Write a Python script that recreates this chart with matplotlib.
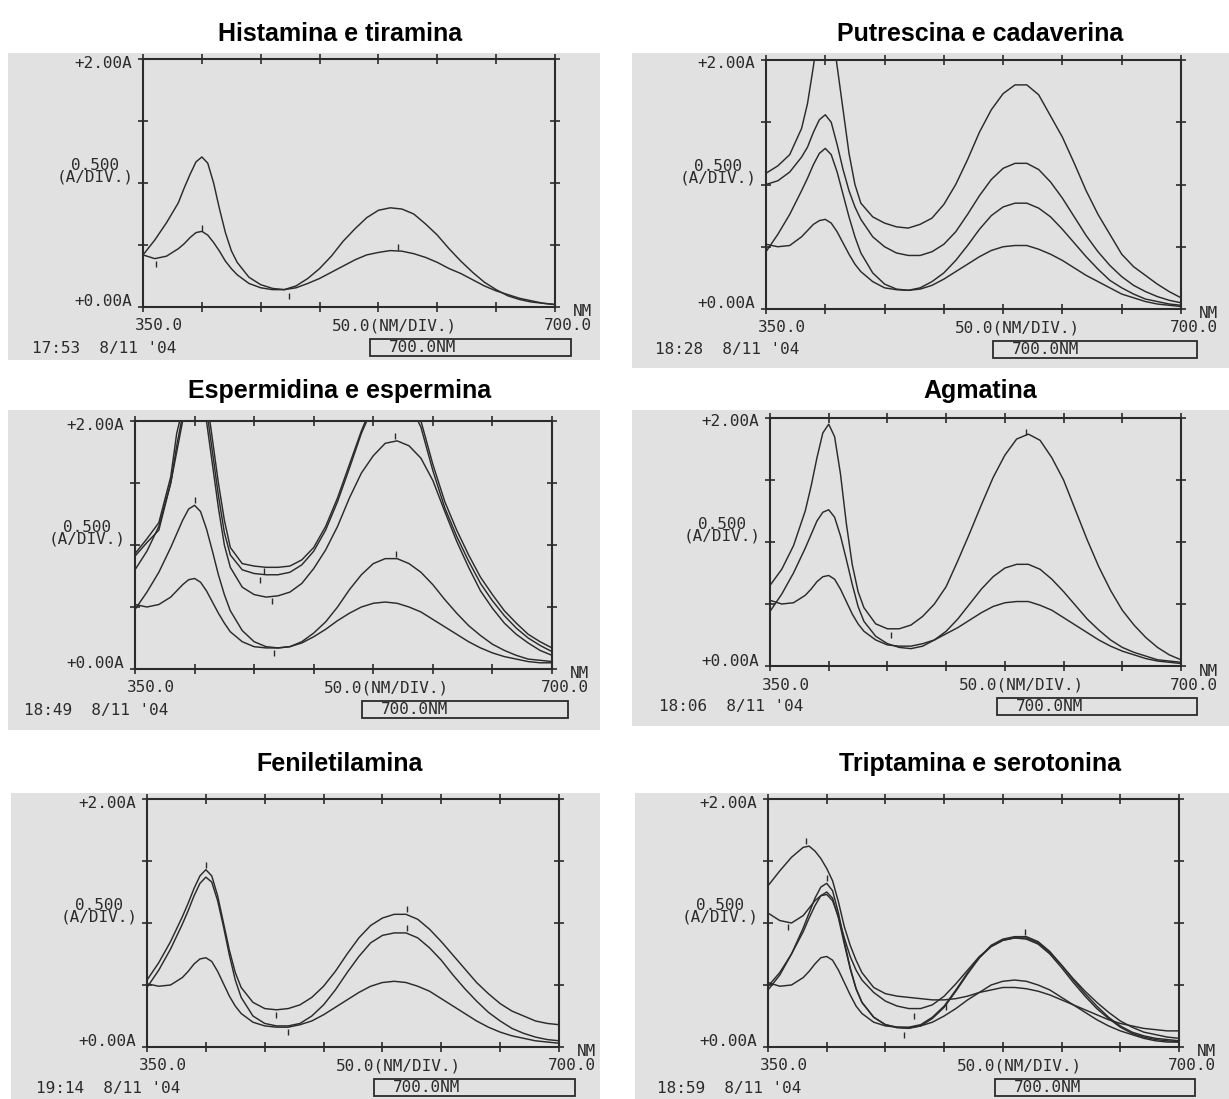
import matplotlib
matplotlib.use('Agg')
import matplotlib.pyplot as plt
from matplotlib.patches import Rectangle

# ---------------- data ----------------
wavelength = [350, 360, 370, 380, 385, 390, 395, 400, 405, 410, 415, 420, 425, 430,
              440, 450, 460, 470, 480, 490, 500, 510, 520, 530, 540, 550, 560, 570,
              580, 590, 600, 610, 620, 630, 640, 650, 660, 670, 680, 690, 700]

titles = ["Histamina e tiramina", "Putrescina e cadaverina",
          "Espermidina e espermina", "Agmatina",
          "Feniletilamina", "Triptamina e serotonina"]
timestamps = ["17:53  8/11 '04", "18:28  8/11 '04", "18:49  8/11 '04",
              "18:06  8/11 '04", "19:14  8/11 '04", "18:59  8/11 '04"]
y_top_label = "+2.00A"
y_bottom_label = "+0.00A"
y_scale_label = "0.500\n(A/DIV.)"
x_start_label = "350.0"
x_scale_label = "50.0(NM/DIV.)"
x_end_label = "700.0"
x_unit_label = "NM"
box_label = "700.0NM"

hist_1 = [0.42, 0.54, 0.68, 0.84, 0.96, 1.07, 1.17, 1.21, 1.16, 1.00, 0.79, 0.60, 0.455, 0.36,
          0.24, 0.18, 0.15, 0.14, 0.17, 0.23, 0.31, 0.41, 0.53, 0.63, 0.72, 0.78, 0.80, 0.79,
          0.75, 0.67, 0.58, 0.47, 0.37, 0.28, 0.20, 0.14, 0.09, 0.06, 0.04, 0.03, 0.02]
hist_2 = [0.42, 0.39, 0.41, 0.47, 0.51, 0.56, 0.60, 0.61, 0.58, 0.52, 0.45, 0.37, 0.31, 0.26,
          0.19, 0.155, 0.14, 0.14, 0.155, 0.19, 0.23, 0.28, 0.33, 0.38, 0.42, 0.44, 0.455, 0.45,
          0.43, 0.40, 0.36, 0.31, 0.27, 0.22, 0.17, 0.13, 0.10, 0.07, 0.05, 0.03, 0.02]
hist_mark_nm = [361, 400, 474, 567]
hist_mark_a = [0.35, 0.64, 0.09, 0.48]

putr_1 = [1.09, 1.15, 1.24, 1.45, 1.65, 1.95, 2.30, 2.50, 2.30, 1.95, 1.60, 1.25, 1.00, 0.85,
          0.74, 0.69, 0.66, 0.65, 0.68, 0.73, 0.84, 1.00, 1.20, 1.42, 1.60, 1.73, 1.80, 1.80,
          1.72, 1.55, 1.38, 1.17, 0.95, 0.76, 0.60, 0.44, 0.34, 0.27, 0.20, 0.14, 0.09]
putr_2 = [1.00, 1.03, 1.10, 1.22, 1.30, 1.42, 1.52, 1.56, 1.50, 1.32, 1.12, 0.95, 0.82, 0.72,
          0.58, 0.50, 0.45, 0.43, 0.43, 0.46, 0.52, 0.62, 0.76, 0.91, 1.04, 1.13, 1.17, 1.17,
          1.12, 1.02, 0.89, 0.74, 0.59, 0.46, 0.35, 0.26, 0.19, 0.14, 0.10, 0.07, 0.05]
putr_3 = [0.46, 0.60, 0.76, 0.95, 1.05, 1.16, 1.25, 1.29, 1.24, 1.10, 0.92, 0.74, 0.58, 0.45,
          0.29, 0.20, 0.16, 0.15, 0.17, 0.22, 0.29, 0.39, 0.51, 0.64, 0.75, 0.82, 0.85, 0.85,
          0.81, 0.74, 0.64, 0.53, 0.42, 0.32, 0.23, 0.17, 0.12, 0.08, 0.06, 0.04, 0.03]
putr_4 = [0.52, 0.50, 0.51, 0.58, 0.63, 0.68, 0.71, 0.72, 0.69, 0.62, 0.53, 0.44, 0.36, 0.30,
          0.22, 0.17, 0.155, 0.15, 0.16, 0.19, 0.24, 0.30, 0.36, 0.42, 0.47, 0.50, 0.51, 0.51,
          0.48, 0.44, 0.39, 0.33, 0.27, 0.22, 0.17, 0.12, 0.09, 0.06, 0.04, 0.03, 0.02]
putr_mark_nm = []
putr_mark_a = []

esp_1 = [0.93, 1.05, 1.18, 1.55, 1.90, 2.10, 2.40, 2.60, 2.50, 2.20, 1.85, 1.50, 1.20, 0.98,
         0.85, 0.83, 0.82, 0.82, 0.83, 0.88, 0.98, 1.15, 1.38, 1.65, 1.92, 2.15, 2.30, 2.30,
         2.20, 2.00, 1.65, 1.35, 1.12, 0.92, 0.74, 0.60, 0.47, 0.37, 0.28, 0.22, 0.17]
esp_2 = [0.91, 1.02, 1.12, 1.50, 1.80, 2.05, 2.30, 2.50, 2.40, 2.10, 1.75, 1.40, 1.10, 0.92,
         0.80, 0.77, 0.76, 0.76, 0.78, 0.84, 0.95, 1.12, 1.35, 1.62, 1.90, 2.12, 2.25, 2.25,
         2.15, 1.95, 1.60, 1.30, 1.07, 0.87, 0.69, 0.55, 0.43, 0.33, 0.25, 0.19, 0.14]
esp_3 = [0.80, 0.95, 1.15, 1.50, 1.75, 2.00, 2.30, 2.40, 2.30, 2.00, 1.65, 1.30, 1.00, 0.82,
         0.66, 0.60, 0.58, 0.59, 0.62, 0.69, 0.81, 0.96, 1.15, 1.38, 1.58, 1.72, 1.82, 1.84,
         1.80, 1.70, 1.52, 1.27, 1.03, 0.82, 0.63, 0.49, 0.37, 0.28, 0.21, 0.15, 0.11]
esp_4 = [0.48, 0.62, 0.78, 0.98, 1.09, 1.20, 1.29, 1.32, 1.27, 1.13, 0.95, 0.76, 0.60, 0.47,
         0.31, 0.22, 0.18, 0.17, 0.18, 0.22, 0.29, 0.38, 0.50, 0.64, 0.76, 0.85, 0.89, 0.89,
         0.85, 0.78, 0.68, 0.56, 0.45, 0.35, 0.27, 0.20, 0.15, 0.11, 0.08, 0.07, 0.06]
esp_5 = [0.52, 0.50, 0.52, 0.58, 0.63, 0.68, 0.72, 0.73, 0.70, 0.63, 0.54, 0.45, 0.37, 0.30,
         0.22, 0.18, 0.17, 0.17, 0.18, 0.21, 0.26, 0.32, 0.39, 0.45, 0.50, 0.53, 0.54, 0.53,
         0.50, 0.46, 0.40, 0.34, 0.28, 0.22, 0.17, 0.13, 0.10, 0.08, 0.06, 0.05, 0.05]
esp_mark_nm = [400, 455, 458, 465, 568, 569, 467]
esp_mark_a = [1.36, 0.72, 0.79, 0.55, 1.88, 0.93, 0.13]

agm_1 = [0.65, 0.78, 0.97, 1.25, 1.45, 1.68, 1.88, 1.95, 1.85, 1.55, 1.15, 0.82, 0.60, 0.47,
         0.34, 0.30, 0.30, 0.33, 0.40, 0.50, 0.64, 0.85, 1.07, 1.30, 1.52, 1.70, 1.83, 1.87,
         1.82, 1.68, 1.50, 1.26, 1.02, 0.80, 0.61, 0.45, 0.33, 0.23, 0.15, 0.09, 0.05]
agm_2 = [0.44, 0.58, 0.75, 0.95, 1.06, 1.17, 1.24, 1.26, 1.20, 1.05, 0.86, 0.66, 0.48, 0.36,
         0.24, 0.18, 0.15, 0.14, 0.16, 0.21, 0.28, 0.38, 0.50, 0.62, 0.72, 0.79, 0.82, 0.82,
         0.78, 0.70, 0.60, 0.49, 0.38, 0.29, 0.21, 0.15, 0.11, 0.08, 0.05, 0.04, 0.03]
agm_3 = [0.53, 0.50, 0.51, 0.57, 0.62, 0.68, 0.72, 0.73, 0.70, 0.62, 0.52, 0.42, 0.34, 0.28,
         0.21, 0.17, 0.16, 0.16, 0.18, 0.21, 0.26, 0.31, 0.37, 0.43, 0.48, 0.51, 0.52, 0.52,
         0.49, 0.45, 0.39, 0.33, 0.27, 0.21, 0.16, 0.12, 0.09, 0.06, 0.04, 0.03, 0.02]
agm_mark_nm = [568, 453]
agm_mark_a = [1.89, 0.25]

fen_1 = [0.54, 0.68, 0.85, 1.05, 1.16, 1.28, 1.38, 1.43, 1.38, 1.22, 1.00, 0.78, 0.60, 0.48,
         0.36, 0.31, 0.30, 0.31, 0.34, 0.40, 0.49, 0.61, 0.75, 0.88, 0.98, 1.04, 1.07, 1.07,
         1.03, 0.95, 0.85, 0.74, 0.63, 0.52, 0.43, 0.35, 0.29, 0.25, 0.21, 0.19, 0.18]
fen_2 = [0.48, 0.62, 0.79, 0.99, 1.10, 1.22, 1.32, 1.37, 1.33, 1.18, 0.97, 0.74, 0.54, 0.40,
         0.25, 0.19, 0.17, 0.17, 0.19, 0.25, 0.34, 0.46, 0.60, 0.73, 0.84, 0.90, 0.92, 0.92,
         0.88, 0.80, 0.70, 0.58, 0.47, 0.37, 0.28, 0.21, 0.15, 0.11, 0.08, 0.06, 0.05]
fen_3 = [0.51, 0.49, 0.50, 0.56, 0.61, 0.67, 0.71, 0.72, 0.69, 0.61, 0.51, 0.41, 0.33, 0.27,
         0.20, 0.17, 0.16, 0.16, 0.18, 0.21, 0.26, 0.32, 0.38, 0.44, 0.49, 0.52, 0.53, 0.52,
         0.49, 0.45, 0.39, 0.33, 0.27, 0.21, 0.16, 0.12, 0.09, 0.07, 0.05, 0.04, 0.03]
fen_mark_nm = [400, 571, 571, 460, 470]
fen_mark_a = [1.47, 1.11, 0.96, 0.26, 0.12]

trip_1 = [1.30, 1.42, 1.53, 1.61, 1.62, 1.58, 1.52, 1.44, 1.34, 1.17, 0.97, 0.82, 0.70, 0.60,
          0.48, 0.43, 0.41, 0.40, 0.39, 0.38, 0.38, 0.39, 0.41, 0.44, 0.46, 0.48, 0.48, 0.47,
          0.45, 0.42, 0.38, 0.34, 0.30, 0.26, 0.22, 0.19, 0.17, 0.15, 0.14, 0.13, 0.13]
trip_2 = [1.08, 1.02, 1.00, 1.06, 1.12, 1.18, 1.22, 1.23, 1.18, 1.05, 0.88, 0.73, 0.62, 0.54,
          0.44, 0.37, 0.33, 0.31, 0.31, 0.34, 0.41, 0.51, 0.62, 0.73, 0.81, 0.86, 0.88, 0.88,
          0.84, 0.76, 0.66, 0.55, 0.45, 0.36, 0.28, 0.21, 0.16, 0.12, 0.10, 0.08, 0.07]
trip_3 = [0.46, 0.58, 0.75, 0.96, 1.08, 1.20, 1.29, 1.32, 1.26, 1.08, 0.85, 0.64, 0.47, 0.36,
          0.24, 0.18, 0.155, 0.15, 0.17, 0.23, 0.32, 0.45, 0.59, 0.72, 0.82, 0.87, 0.89, 0.89,
          0.85, 0.77, 0.66, 0.54, 0.43, 0.33, 0.24, 0.17, 0.12, 0.09, 0.07, 0.06, 0.05]
trip_4 = [0.52, 0.49, 0.50, 0.56, 0.61, 0.67, 0.72, 0.73, 0.70, 0.62, 0.52, 0.42, 0.33, 0.27,
          0.20, 0.17, 0.16, 0.155, 0.17, 0.20, 0.25, 0.31, 0.38, 0.44, 0.50, 0.53, 0.54, 0.53,
          0.50, 0.46, 0.40, 0.34, 0.28, 0.22, 0.17, 0.13, 0.10, 0.07, 0.05, 0.04, 0.04]
trip_5 = [0.49, 0.60, 0.75, 0.93, 1.04, 1.14, 1.22, 1.25, 1.20, 1.04, 0.83, 0.63, 0.47, 0.36,
          0.24, 0.18, 0.16, 0.16, 0.18, 0.24, 0.33, 0.46, 0.60, 0.72, 0.81, 0.86, 0.88, 0.87,
          0.83, 0.75, 0.64, 0.52, 0.41, 0.31, 0.23, 0.16, 0.11, 0.08, 0.06, 0.05, 0.04]
trip_mark_nm = [382, 400, 367, 474, 466, 502, 569]
trip_mark_a = [1.66, 1.36, 0.97, 0.25, 0.10, 0.32, 0.93]

panel_curves = [[hist_1, hist_2],
                [putr_1, putr_2, putr_3, putr_4],
                [esp_1, esp_2, esp_3, esp_4, esp_5],
                [agm_1, agm_2, agm_3],
                [fen_1, fen_2, fen_3],
                [trip_1, trip_2, trip_3, trip_4, trip_5]]
panel_marks = [(hist_mark_nm, hist_mark_a), (putr_mark_nm, putr_mark_a),
               (esp_mark_nm, esp_mark_a), (agm_mark_nm, agm_mark_a),
               (fen_mark_nm, fen_mark_a), (trip_mark_nm, trip_mark_a)]

# ---------------- layout (pixels) ----------------
W_PX, H_PX = 1229, 1099
axes_px = [(143, 59, 555, 307), (766, 60, 1181, 309),
           (135, 421, 552, 669), (770, 418, 1181, 666),
           (147, 799, 559, 1047), (768, 799, 1179, 1047)]
scan_px = [(8, 53, 600, 360), (632, 53, 1229, 368),
           (8, 410, 600, 730), (632, 410, 1229, 726),
           (11, 793, 600, 1099), (635, 793, 1229, 1099)]
title_px = [(340, 41), (980, 41), (340, 398), (980, 398), (340, 771), (980, 771)]

INK = '#2b2b2b'
PAPER = '#e1e1e1'
MONO = 'DejaVu Sans Mono'
MFS = 11.5

fig = plt.figure(figsize=(W_PX / 100, H_PX / 100), dpi=100)
fig.patch.set_facecolor('white')


def fx(px):
    return px / W_PX


def fy(py):
    return 1 - py / H_PX


def ftext(x, y, s, ha='left', va='center', **kw):
    fig.text(fx(x), fy(y), s, ha=ha, va=va, family=MONO, fontsize=MFS, color=INK, **kw)


for i in range(6):
    L, T, R, B = axes_px[i]
    x0, y0, x1, y1 = scan_px[i]
    fig.add_artist(Rectangle((fx(x0), fy(y1)), (x1 - x0) / W_PX, (y1 - y0) / H_PX,
                             transform=fig.transFigure, facecolor=PAPER,
                             edgecolor='none', zorder=0))
    ax = fig.add_axes([fx(L), fy(B), (R - L) / W_PX, (B - T) / H_PX])
    ax.set_facecolor('none')
    ax.set_xlim(350, 700)
    ax.set_ylim(0, 2)
    ax.set_xticks(range(350, 701, 50))
    ax.set_yticks([0, 0.5, 1.0, 1.5, 2.0])
    ax.tick_params(which='both', direction='inout', length=7, width=1.2, color=INK,
                   top=True, right=True, labelbottom=False, labelleft=False)
    for sp in ax.spines.values():
        sp.set_linewidth(1.5)
        sp.set_color(INK)
    for curve in panel_curves[i]:
        ax.plot(wavelength, curve, color=INK, lw=1.05)
    mnm, ma = panel_marks[i]
    if mnm:
        ax.plot(mnm, ma, ls='none', marker='|', ms=5, mew=1.0, color=INK)

    # printer texts
    ftext(L - 11, T + 4, y_top_label, ha='right')
    ftext(L - 9, T + 112, y_scale_label, ha='right', multialignment='center',
          linespacing=0.72)
    ftext(L - 11, B - 5, y_bottom_label, ha='right')
    ftext(L - 8, B + 19, x_start_label)
    ftext(L + 189, B + 19, x_scale_label)
    ftext(R + 37, B + 5, x_unit_label, ha='right')
    ftext(R + 37, B + 19, x_end_label, ha='right')
    ftext(L - 111, B + 41, timestamps[i])
    fig.add_artist(Rectangle((fx(L + 227), fy(B + 49)), (R + 16 - L - 227) / W_PX, 17 / H_PX,
                             transform=fig.transFigure, facecolor='none',
                             edgecolor=INK, lw=1.3, zorder=3))
    ftext(L + 246, B + 40.5, box_label)

    tx, ty = title_px[i]
    fig.text(fx(tx), fy(ty), titles[i], ha='center', va='baseline',
             family='Liberation Sans', fontweight='bold', fontsize=18, color='black')

fig.savefig('out.png', dpi=100, facecolor='white')
